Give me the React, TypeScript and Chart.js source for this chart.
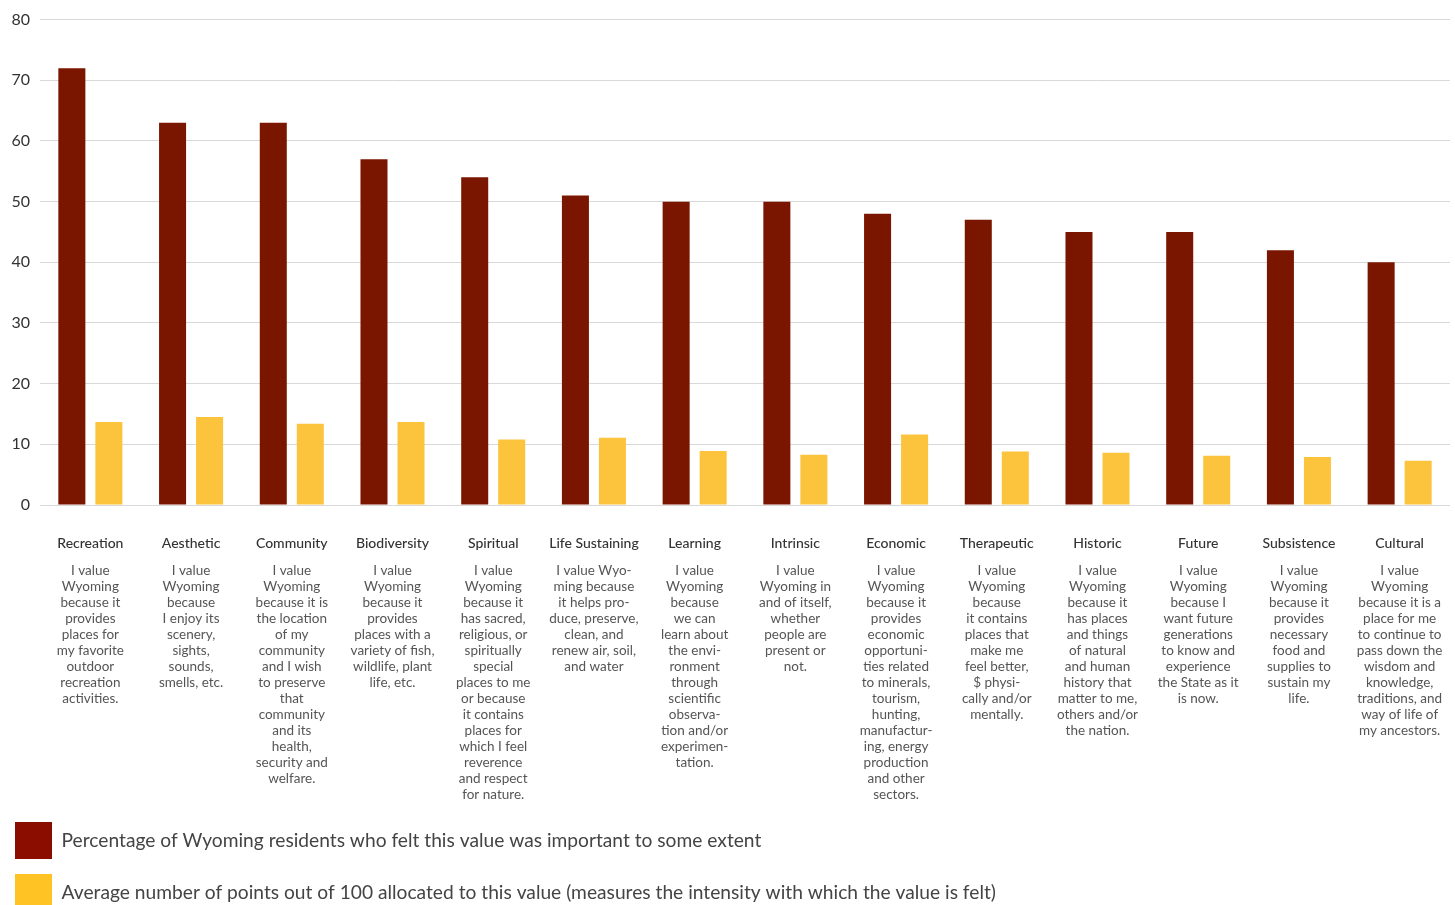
import React, { useEffect, useRef } from 'react';
import { Chart, registerables } from 'chart.js';

Chart.register(...registerables);

const FONT = 'Lato, "Noto Sans", sans-serif';

const categories = [
  'Recreation', 'Aesthetic', 'Community', 'Biodiversity', 'Spiritual', 'Life Sustaining', 'Learning',
  'Intrinsic', 'Economic', 'Therapeutic', 'Historic', 'Future', 'Subsistence', 'Cultural',
];

const importantPct = [72, 63, 63, 57, 54, 51, 50, 50, 48, 47, 45, 45, 42, 40];
const avgPoints = [13.7, 14.5, 13.4, 13.7, 10.8, 11.1, 8.9, 8.3, 11.6, 8.8, 8.6, 8.1, 7.9, 7.3];

const yMin = 0;
const yMax = 80;
const yStep = 10;

const seriesLabels = [
  'Percentage of Wyoming residents who felt this value was important to some extent',
  'Average number of points out of 100 allocated to this value (measures the intensity with which the value is felt)',
];

const barColors = ['#7a1600', '#fcc33c'];
const legendColors = ['#8a0d00', '#ffc423'];

const descriptions: string[][] = [
  ['I value', 'Wyoming', 'because it', 'provides', 'places for', 'my favorite', 'outdoor', 'recreation', 'activities.'],
  ['I value', 'Wyoming', 'because', 'I enjoy its', 'scenery,', 'sights,', 'sounds,', 'smells, etc.'],
  ['I value', 'Wyoming', 'because it is', 'the location', 'of my', 'community', 'and I wish', 'to preserve', 'that', 'community', 'and its', 'health,', 'security and', 'welfare.'],
  ['I value', 'Wyoming', 'because it', 'provides', 'places with a', 'variety of fish,', 'wildlife, plant', 'life, etc.'],
  ['I value', 'Wyoming', 'because it', 'has sacred,', 'religious, or', 'spiritually', 'special', 'places to me', 'or because', 'it contains', 'places for', 'which I feel', 'reverence', 'and respect', 'for nature.'],
  ['I value Wyo-', 'ming because', 'it helps pro-', 'duce, preserve,', 'clean, and', 'renew air, soil,', 'and water'],
  ['I value', 'Wyoming', 'because', 'we can', 'learn about', 'the envi-', 'ronment', 'through', 'scientific', 'observa-', 'tion and/or', 'experimen-', 'tation.'],
  ['I value', 'Wyoming in', 'and of itself,', 'whether', 'people are', 'present or', 'not.'],
  ['I value', 'Wyoming', 'because it', 'provides', 'economic', 'opportuni-', 'ties related', 'to minerals,', 'tourism,', 'hunting,', 'manufactur-', 'ing, energy', 'production', 'and other', 'sectors.'],
  ['I value', 'Wyoming', 'because', 'it contains', 'places that', 'make me', 'feel better,', '$ physi-', 'cally and/or', 'mentally.'],
  ['I value', 'Wyoming', 'because it', 'has places', 'and things', 'of natural', 'and human', 'history that', 'matter to me,', 'others and/or', 'the nation.'],
  ['I value', 'Wyoming', 'because I', 'want future', 'generations', 'to know and', 'experience', 'the State as it', 'is now.'],
  ['I value', 'Wyoming', 'because it', 'provides', 'necessary', 'food and', 'supplies to', 'sustain my', 'life.'],
  ['I value', 'Wyoming', 'because it is a', 'place for me', 'to continue to', 'pass down the', 'wisdom and', 'knowledge,', 'traditions, and', 'way of life of', 'my ancestors.'],
];

const categoryLabelPlugin = {
  id: 'categoryLabels',
  afterDraw(chart: any) {
    const xs = chart.scales.x;
    const ctx = chart.ctx;
    ctx.save();
    ctx.textAlign = 'center';
    ctx.textBaseline = 'middle';
    categories.forEach((name, i) => {
      const px = xs.getPixelForValue(i);
      ctx.font = `500 14px ${FONT}`;
      ctx.fillStyle = '#333333';
      ctx.fillText(name, px, xs.top + 38);
      ctx.font = `400 13.5px ${FONT}`;
      ctx.fillStyle = '#555555';
      descriptions[i].forEach((line, j) => {
        ctx.fillText(line, px, xs.top + 66 + j * 16);
      });
    });
    ctx.restore();
  },
};

export default function App() {
  const canvasRef = useRef<HTMLCanvasElement | null>(null);

  useEffect(() => {
    document.body.style.margin = '0';
    document.body.style.overflow = 'hidden';
    document.documentElement.style.overflow = 'hidden';
    const canvas = canvasRef.current;
    if (!canvas) return;
    const chart = new Chart(canvas, {
      type: 'bar',
      data: {
        labels: categories,
        datasets: [
          {
            label: seriesLabels[0],
            data: importantPct,
            backgroundColor: barColors[0],
            borderWidth: 0,
            categoryPercentage: 0.735,
            barPercentage: 0.73,
          },
          {
            label: seriesLabels[1],
            data: avgPoints,
            backgroundColor: barColors[1],
            borderWidth: 0,
            categoryPercentage: 0.735,
            barPercentage: 0.73,
          },
        ],
      },
      options: {
        responsive: false,
        animation: false,
        layout: { padding: { top: 19, right: 5, left: 0, bottom: 0 } },
        plugins: {
          tooltip: { enabled: false },
          legend: {
            position: 'bottom',
            align: 'start',
            labels: {
              boxWidth: 37,
              boxHeight: 37,
              padding: 15,
              color: '#444444',
              font: { family: FONT, size: 19.2 },
              generateLabels: () =>
                seriesLabels.map((text, i) => ({
                  text,
                  fillStyle: legendColors[i],
                  strokeStyle: legendColors[i],
                  lineWidth: 0,
                  hidden: false,
                  datasetIndex: i,
                  fontColor: '#444444',
                })),
            },
          },
        },
        scales: {
          x: {
            grid: { display: false, drawTicks: false },
            border: { display: false },
            ticks: { display: false },
            afterFit: (scale: any) => {
              scale.height = 302;
            },
          },
          y: {
            min: yMin,
            max: yMax,
            ticks: {
              stepSize: yStep,
              padding: 10,
              color: '#333333',
              font: { family: FONT, size: 16 },
            },
            grid: { color: '#d9d9d9', lineWidth: 1, drawTicks: false },
            border: { display: false },
            afterFit: (scale: any) => {
              scale.width = 40;
            },
          },
        },
      },
      plugins: [categoryLabelPlugin],
    });
    return () => chart.destroy();
  }, []);

  return (
    <div style={{ position: 'fixed', left: 0, top: 0, width: 1455, height: 905, overflow: 'hidden', background: '#ffffff' }}>
      <canvas ref={canvasRef} width={1455} height={921} style={{ display: 'block' }} />
    </div>
  );
}
